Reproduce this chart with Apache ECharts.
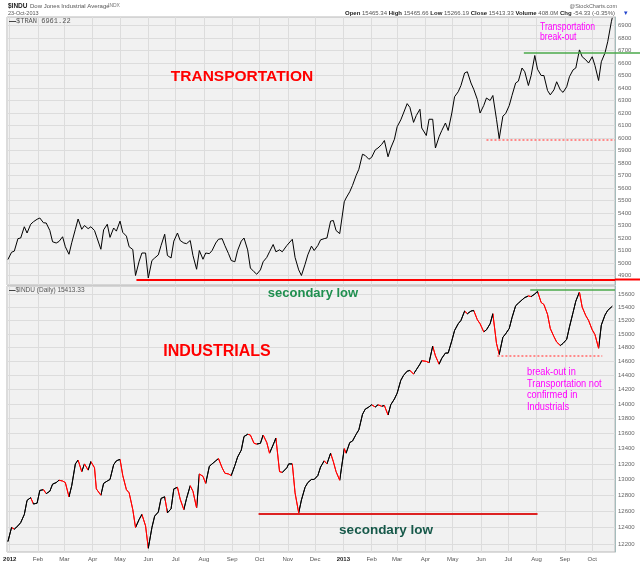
<!DOCTYPE html>
<html><head><meta charset="utf-8">
<script src="https://cdn.jsdelivr.net/npm/echarts@6/dist/echarts.min.js"></script>
<style>html,body{margin:0;padding:0;background:#fff}#c{width:640px;height:564px}</style>
</head><body><div id="c"></div>
<script>
const dates = ['2011-12-30',
'2012-01-03','2012-01-06','2012-01-10','2012-01-13','2012-01-17','2012-01-20','2012-01-24','2012-01-27','2012-01-31','2012-02-03',
'2012-02-07','2012-02-10','2012-02-14','2012-02-17','2012-02-21','2012-02-24','2012-02-28','2012-03-02','2012-03-06','2012-03-09',
'2012-03-13','2012-03-16','2012-03-20','2012-03-23','2012-03-27','2012-03-30','2012-04-03','2012-04-05','2012-04-10','2012-04-13',
'2012-04-17','2012-04-20','2012-04-24','2012-04-27','2012-05-01','2012-05-04','2012-05-08','2012-05-11','2012-05-15','2012-05-18',
'2012-05-22','2012-05-25','2012-05-29','2012-06-01','2012-06-05','2012-06-08','2012-06-12','2012-06-15','2012-06-19','2012-06-22',
'2012-06-26','2012-06-29','2012-07-03','2012-07-06','2012-07-10','2012-07-13','2012-07-17','2012-07-20','2012-07-24','2012-07-27',
'2012-07-31','2012-08-03','2012-08-07','2012-08-10','2012-08-14','2012-08-17','2012-08-21','2012-08-24','2012-08-28','2012-08-31',
'2012-09-04','2012-09-07','2012-09-11','2012-09-14','2012-09-18','2012-09-21','2012-09-25','2012-09-28','2012-10-02','2012-10-05',
'2012-10-09','2012-10-12','2012-10-16','2012-10-19','2012-10-23','2012-10-26','2012-10-31','2012-11-02','2012-11-06','2012-11-09',
'2012-11-13','2012-11-16','2012-11-20','2012-11-23','2012-11-27','2012-11-30','2012-12-04','2012-12-07','2012-12-11','2012-12-14',
'2012-12-18','2012-12-21','2012-12-24','2012-12-28',
'2013-01-02','2013-01-04','2013-01-08','2013-01-11','2013-01-15','2013-01-18','2013-01-22','2013-01-25','2013-01-29','2013-02-01',
'2013-02-05','2013-02-08','2013-02-12','2013-02-15','2013-02-19','2013-02-22','2013-02-26','2013-03-01','2013-03-05','2013-03-08',
'2013-03-12','2013-03-15','2013-03-19','2013-03-22','2013-03-26','2013-03-28','2013-04-02','2013-04-05','2013-04-09','2013-04-12',
'2013-04-16','2013-04-19','2013-04-23','2013-04-26','2013-04-30','2013-05-03','2013-05-07','2013-05-10','2013-05-14','2013-05-17',
'2013-05-21','2013-05-24','2013-05-28','2013-05-31','2013-06-04','2013-06-07','2013-06-11','2013-06-14','2013-06-18','2013-06-21',
'2013-06-25','2013-06-28','2013-07-02','2013-07-05','2013-07-09','2013-07-12','2013-07-16','2013-07-19','2013-07-23','2013-07-26',
'2013-07-30','2013-08-02','2013-08-06','2013-08-09','2013-08-13','2013-08-16','2013-08-20','2013-08-23','2013-08-27','2013-08-30',
'2013-09-03','2013-09-06','2013-09-10','2013-09-13','2013-09-17','2013-09-20','2013-09-24','2013-09-27','2013-10-01','2013-10-04',
'2013-10-08','2013-10-11','2013-10-15','2013-10-18','2013-10-22','2013-10-23'];

const tran = [5028,
5086,5095,5195,5200,5290,5240,5310,5330,5350,5360,
5322,5320,5260,5170,5160,5172,5210,5130,5070,5162,
5270,5352,5270,5300,5275,5290,5260,5270,5110,5265,
5310,5205,5280,5255,5335,5245,5215,5130,5108,4900,
5015,5080,5080,4880,5020,5040,5065,5140,5230,5060,
5040,5175,5240,5180,5160,5155,5180,5060,4950,5100,
5030,5080,5075,5100,5160,5190,5195,5140,5075,5020,
5010,5100,5175,5200,5105,4960,4930,4910,4945,5010,
5045,5090,5148,5090,5105,5090,5140,5130,5190,5045,
4945,4900,4990,5065,5135,5100,5140,5185,5195,5200,
5335,5340,5260,5235,
5490,5520,5570,5620,5700,5750,5870,5860,5830,5845,
5905,5920,5948,5980,5850,5920,5990,6090,6145,6200,
6275,6245,6125,6180,6230,6080,6020,6150,6150,5920,
6010,6060,6120,6060,6200,6330,6370,6420,6520,6530,
6440,6390,6308,6200,6260,6320,6300,6340,6150,5995,
6175,6195,6260,6340,6440,6455,6560,6530,6420,6500,
6660,6550,6500,6500,6380,6345,6385,6450,6385,6365,
6410,6490,6545,6560,6705,6650,6625,6600,6650,6580,
6460,6610,6680,6770,6930,6961.22];

const indu = [12230,
12400,12380,12420,12460,12560,12735,12770,12690,12700,12860,
12870,12820,12850,12940,12960,12990,12980,12960,12780,12920,
13200,13250,13100,13200,13120,13230,13150,12880,12800,12950,
12980,13000,13190,13240,13260,13050,12870,12830,12620,12400,
12500,12560,12420,12150,12400,12540,12590,12760,12780,12580,
12630,12880,12900,12750,12620,12760,12920,12850,12640,13070,
13040,12950,13170,13200,13240,13270,13150,13080,13070,13050,
13180,13290,13380,13560,13590,13580,13470,13460,13470,13580,
13480,13340,13450,13540,13100,13090,13150,13200,13200,12830,
12580,12740,12900,12960,13000,13000,13050,13160,13240,13200,
13340,13230,13100,12990,
13400,13340,13480,13500,13590,13650,13860,13930,13960,13990,
13960,13990,13970,13980,13850,13990,14070,14150,14330,14400,
14460,14470,14420,14480,14560,14610,14600,14580,14820,14680,
14560,14645,14720,14720,14900,15050,15150,15200,15340,15300,
15340,15350,15210,15150,15030,15060,15150,15300,14860,14700,
14950,15000,15080,15240,15420,15460,15510,15545,15570,15560,
15600,15640,15470,15440,15290,15080,14960,14880,14830,14860,
14920,15100,15320,15490,15630,15400,15270,15200,15060,14990,
14790,15130,15280,15350,15400,15413.33];

const tranTicks = [4900,5000,5100,5200,5300,5400,5500,5600,5700,5800,5900,6000,6100,6200,6300,6400,6500,6600,6700,6800,6900];
const induTicks = [12200,12400,12600,12800,13000,13200,13400,13600,13800,14000,14200,14400,14600,14800,15000,15200,15400,15600];
const monthNames = ['Jan','Feb','Mar','Apr','May','Jun','Jul','Aug','Sep','Oct','Nov','Dec'];

// annotation levels
const tranLowLevel = 4868, tranBreakLevel = 6680, tranSupportLevel = 5990;
const induHighLevel = 15660, induSupportLevel = 14680, induLowLevel = 12575;

const tp = s => ((echarts.time && echarts.time.parse) ? echarts.time.parse(s) : new Date(s + 'T00:00:00')).getTime();

const pieces = [];
for (let i = 1; i < dates.length; i++) {
  pieces.push({gt: tp(dates[i-1]), lte: tp(dates[i]), color: indu[i] < indu[i-1] ? '#ff0000' : '#000000'});
}

const xMin = tp('2011-12-29'), xMax = tp('2013-10-26');
const FONT = '"Liberation Sans", Arial, sans-serif';

function txt(x, y, text, opt, extra) {
  return Object.assign({type: 'text', x: x, y: y, silent: true, z: 100, style: Object.assign({
    text: text, fontFamily: FONT, fontSize: 6, fill: '#555',
    align: 'left', textAlign: 'left', verticalAlign: 'middle', textVerticalAlign: 'middle'
  }, opt || {})}, extra || {});
}

const chart = echarts.init(document.getElementById('c'), null, {renderer: 'canvas'});
const graphics = [
  txt(8, 6, '$INDU', {fontWeight: 'bold', fontSize: 6.5, fill: '#222'}),
  txt(30, 6, 'Dow Jones Industrial Average', {fontSize: 6, fill: '#555'}),
  txt(108, 6, 'INDX', {fontSize: 5, fill: '#777'}),
  txt(8, 13.5, '23-Oct-2013', {fontSize: 5.5, fill: '#555'}),
  txt(617, 6, '@StockCharts.com', {fontSize: 5.5, fill: '#666', align: 'right', textAlign: 'right'}),
  txt(615, 13.5, '{b|Open} 15465.34 {b|High} 15465.66 {b|Low} 15266.19 {b|Close} 15413.33 {b|Volume} 408.0M {b|Chg} -54.33 (-0.35%)',
    {fontSize: 6, fill: '#555', align: 'right', textAlign: 'right', rich: {b: {fontWeight: 'bold', fontSize: 6, fill: '#222'}}}),
  txt(626, 13.5, '\u25BE', {fontSize: 7, fill: '#2244cc', align: 'center', textAlign: 'center'}),
  txt(9, 21.5, '{k|\u2014}$TRAN 6961.22', {fontSize: 7, fill: '#555', fontFamily: '"Liberation Mono", monospace', rich: {k: {fontWeight: 'bold', fill: '#000', fontSize: 7}}}),
  txt(9, 290.5, '{k|\u2014}$INDU (Daily) 15413.33', {fontSize: 6.5, fill: '#555', rich: {k: {fontWeight: 'bold', fill: '#000', fontSize: 6.5}}}),
  txt(242, 77, 'TRANSPORTATION', {fontSize: 15.5, fontWeight: 'bold', fill: '#ff0000', align: 'center', textAlign: 'center'}),
  txt(217, 352, 'INDUSTRIALS', {fontSize: 16, fontWeight: 'bold', fill: '#ff0000', align: 'center', textAlign: 'center'}),
  txt(313, 293, 'secondary low', {fontSize: 13, fontWeight: 'bold', fill: '#1f8f4f', align: 'center', textAlign: 'center'}),
  txt(386, 530, 'secondary low', {fontSize: 13.5, fontWeight: 'bold', fill: '#17594a', align: 'center', textAlign: 'center'}),
  txt(540, 27, 'Transportation', {fontSize: 10, fill: '#ff00ff'}, {scaleX: 0.86}),
  txt(540, 37, 'break-out', {fontSize: 10, fill: '#ff00ff'}, {scaleX: 0.86}),
  txt(527, 372.5, 'break-out in', {fontSize: 10.5, fill: '#ff00ff'}, {scaleX: 0.88}),
  txt(527, 384, 'Transportation not', {fontSize: 10.5, fill: '#ff00ff'}, {scaleX: 0.88}),
  txt(527, 395.5, 'confirmed in', {fontSize: 10.5, fill: '#ff00ff'}, {scaleX: 0.88}),
  txt(527, 407, 'Industrials', {fontSize: 10.5, fill: '#ff00ff'}, {scaleX: 0.88})
];

const option = {
  animation: false,
  backgroundColor: '#ffffff',
  textStyle: {fontFamily: FONT},
  grid: [
    {left: 7, right: 25, top: 17, height: 268, show: true, backgroundColor: '#f1f1f1', borderColor: '#b8b8b8', borderWidth: 1},
    {left: 7, right: 25, top: 286, height: 266, show: true, backgroundColor: '#f1f1f1', borderColor: '#b8b8b8', borderWidth: 1}
  ],
  xAxis: [
    {type: 'time', gridIndex: 0, min: xMin, max: xMax, splitNumber: 22,
     axisLabel: {show: false}, axisTick: {show: false}, axisLine: {show: false},
     splitLine: {show: true, lineStyle: {color: '#dcdcdc', width: 1}}},
    {type: 'time', gridIndex: 1, min: xMin, max: xMax, splitNumber: 22,
     axisLabel: {show: true, fontSize: 6, color: '#555', margin: 4, showMinLabel: false, showMaxLabel: false,
       formatter: function (v) {
         const d = new Date(v);
         if (d.getDate() !== 1) return '';
         return d.getMonth() === 0 ? '{y|' + d.getFullYear() + '}' : monthNames[d.getMonth()];
       },
       rich: {y: {fontWeight: 'bold', fontSize: 6, color: '#222'}}},
     axisTick: {show: false}, axisLine: {show: false},
     splitLine: {show: true, lineStyle: {color: '#dcdcdc', width: 1}}}
  ],
  yAxis: [
    {type: 'value', gridIndex: 0, position: 'right', min: 4824, max: 6968,
     axisLabel: {customValues: tranTicks, formatter: v => String(Math.round(v)), fontSize: 6, color: '#666', margin: 3},
     axisTick: {show: false, customValues: tranTicks},
     axisLine: {show: true, lineStyle: {color: '#a5bcbc'}},
     splitLine: {show: true, lineStyle: {color: '#dcdcdc'}}},
    {type: 'log', logBase: 10, gridIndex: 1, position: 'right', min: 12105, max: 15723,
     axisLabel: {customValues: induTicks, formatter: v => String(Math.round(v)), fontSize: 6, color: '#666', margin: 3},
     axisTick: {show: false, customValues: induTicks},
     axisLine: {show: true, lineStyle: {color: '#a5bcbc'}},
     splitLine: {show: true, lineStyle: {color: '#dcdcdc'}}}
  ],
  visualMap: {type: 'piecewise', show: false, seriesIndex: 1, dimension: 0, pieces: pieces, outOfRange: {color: '#000000'}},
  series: [
    {type: 'line', name: '$TRAN', xAxisIndex: 0, yAxisIndex: 0, silent: true,
     data: dates.map((d, i) => [d, tran[i]]), symbol: 'none', showSymbol: false,
     lineStyle: {color: '#000', width: 1}, itemStyle: {color: '#000'},
     markLine: {silent: true, symbol: ['none', 'none'], label: {show: false}, animation: false,
       data: [
         [{coord: [tp('2012-05-19'), tranLowLevel], lineStyle: {color: '#ff0000', width: 2, type: 'solid'}}, {coord: [xMax, tranLowLevel]}],
         [{coord: [tp('2013-07-18'), tranBreakLevel], lineStyle: {color: '#4aa84a', width: 1.5, type: 'solid'}}, {coord: [xMax, tranBreakLevel]}],
         [{coord: [tp('2013-06-07'), tranSupportLevel], lineStyle: {color: '#ff8a8a', width: 2, type: [2, 2]}}, {coord: [xMax, tranSupportLevel]}]
       ]}},
    {type: 'line', name: '$INDU', xAxisIndex: 1, yAxisIndex: 1, silent: true,
     data: dates.map((d, i) => [d, indu[i]]), symbol: 'none', showSymbol: false,
     lineStyle: {width: 1},
     markLine: {silent: true, symbol: ['none', 'none'], label: {show: false}, animation: false,
       data: [
         [{coord: [tp('2013-07-25'), induHighLevel], lineStyle: {color: '#4aa84a', width: 1.5, type: 'solid'}}, {coord: [xMax, induHighLevel]}],
         [{coord: [tp('2013-06-19'), induSupportLevel], lineStyle: {color: '#ff8a8a', width: 2, type: [2, 2]}}, {coord: [tp('2013-10-12'), induSupportLevel]}],
         [{coord: [tp('2012-09-30'), induLowLevel], lineStyle: {color: '#dd2222', width: 2, type: 'solid'}}, {coord: [tp('2013-08-02'), induLowLevel]}]
       ]}}
  ],
  graphic: graphics
};
chart.setOption(option);

// extend the two top-panel levels across the price-label strip, positioned by the chart's own scales
const extensions = [[0, tranLowLevel, '#ff0000', 2], [0, tranBreakLevel, '#4aa84a', 1.5]];
const extra = extensions.map(function (e) {
  const p = chart.convertToPixel({xAxisIndex: e[0], yAxisIndex: e[0]}, [xMax, e[1]]);
  return {type: 'line', silent: true, z: 50,
    shape: {x1: p[0], y1: p[1], x2: chart.getWidth(), y2: p[1]},
    style: {stroke: e[2], lineWidth: e[3]}};
});
chart.setOption({graphic: graphics.concat(extra)});
</script>
</body></html>
